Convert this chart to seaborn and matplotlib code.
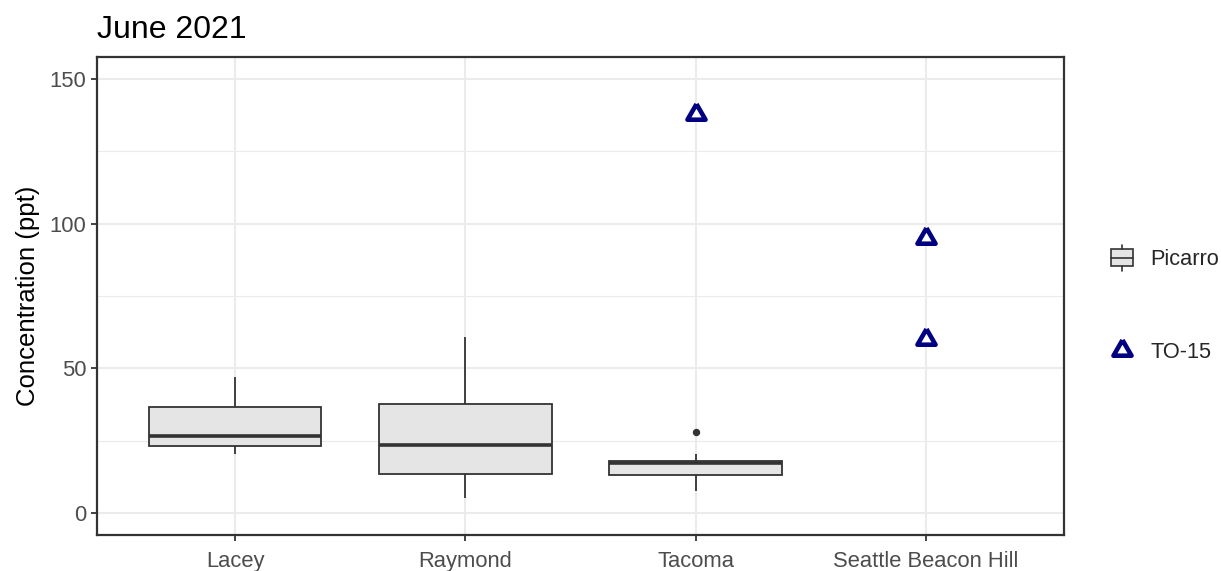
import numpy as np
import pandas as pd
import matplotlib
matplotlib.use("Agg")
import matplotlib.pyplot as plt
import seaborn as sns
from matplotlib.markers import MarkerStyle
from matplotlib.lines import Line2D
from matplotlib.patches import Rectangle
from matplotlib.legend_handler import HandlerBase
from matplotlib.ticker import FixedLocator

# ---- data ----
categories = ["Lacey", "Raymond", "Tacoma", "Seattle Beacon Hill"]
lacey_values = [20.4, 23.3, 26.8, 36.7, 47.1]
raymond_values = [5.3, 13.7, 23.6, 37.8, 60.7]
tacoma_values = [7.6, 13.1, 13.1, 17.3, 17.3, 17.9, 17.9, 20.4, 28.0]
to15_sites = ["Tacoma", "Seattle Beacon Hill", "Seattle Beacon Hill"]
to15_values = [137.7, 95.0, 60.1]
y_ticks = [0, 50, 100, 150]
y_minor = [25, 75, 125]
legend_labels = ["Picarro", "TO-15"]
title_text = "June 2021"
y_label = "Concentration (ppt)"

picarro = pd.DataFrame({
    "site": ["Lacey"] * len(lacey_values) + ["Raymond"] * len(raymond_values)
            + ["Tacoma"] * len(tacoma_values),
    "value": lacey_values + raymond_values + tacoma_values,
})
to15 = pd.DataFrame({"site": to15_sites, "value": to15_values})

# ---- style ----
sns.set_style("white")
plt.rcParams["font.family"] = ["Liberation Sans", "DejaVu Sans"]

NAVY = "#000080"
BOX_FILL = "#E5E5E5"
LINE = "#333333"
tri = MarkerStyle([(0, 1), (-0.866, -0.5), (0.866, -0.5), (0, 1)])

fig = plt.figure(figsize=(12.21, 5.71), dpi=100)
ax = fig.add_axes([97 / 1221, 1 - 535 / 571, (1064 - 97) / 1221, (535 - 57) / 571])

sns.boxplot(data=picarro, x="site", y="value", order=categories, ax=ax,
            color=BOX_FILL, linecolor=LINE, linewidth=1.3, saturation=1,
            width=0.75, showcaps=False,
            medianprops={"linewidth": 2.6, "color": LINE},
            flierprops={"marker": "o", "markersize": 4.3,
                        "markerfacecolor": LINE, "markeredgecolor": LINE})

sns.stripplot(data=to15, x="site", y="value", order=categories, ax=ax,
              jitter=False, marker=tri, size=15, color="white",
              edgecolor=NAVY, linewidth=3.3, zorder=4)

ax.set_xlim(-0.6, 3.6)
ax.set_ylim(-7.5, 157.5)
ax.set_yticks(y_ticks)
ax.yaxis.set_minor_locator(FixedLocator(y_minor))
ax.set_axisbelow(True)
ax.grid(which="major", color="#EBEBEB", linewidth=1.5)
ax.grid(which="minor", axis="y", color="#EBEBEB", linewidth=0.8)
for s in ax.spines.values():
    s.set_visible(True)
    s.set_color(LINE)
    s.set_linewidth(1.6)
ax.tick_params(which="major", direction="out", length=4.5, width=1.3,
               color=LINE, labelcolor="#4D4D4D", labelsize=15.8, pad=3,
               bottom=True, left=True)
ax.tick_params(axis="x", which="major", pad=7)
ax.tick_params(which="minor", length=0)
ax.set_xlabel("")
ax.set_ylabel(y_label, fontsize=18.5, color="black", labelpad=7)
ax.set_title(title_text, loc="left", fontsize=23, pad=14, color="black")


class BoxHandler(HandlerBase):
    def create_artists(self, legend, orig_handle, xdescent, ydescent,
                       width, height, fontsize, trans):
        cy = height / 2 - ydescent
        cx = width / 2 - xdescent
        rh = 0.55 * height
        rect = Rectangle((-xdescent, cy - rh), width, 2 * rh,
                         facecolor=BOX_FILL, edgecolor=LINE, linewidth=1.2,
                         transform=trans)
        med = Line2D([-xdescent, -xdescent + width], [cy, cy],
                     color=LINE, linewidth=1.2, transform=trans)
        w1 = Line2D([cx, cx], [cy + rh, cy + 0.85 * height],
                    color=LINE, linewidth=1.2, transform=trans)
        w2 = Line2D([cx, cx], [cy - rh, cy - 0.85 * height],
                    color=LINE, linewidth=1.2, transform=trans)
        return [rect, med, w1, w2]


box_handle = Rectangle((0, 0), 1, 1)
tri_handle = Line2D([], [], marker=tri, linestyle="none", markersize=15,
                    markerfacecolor="white", markeredgecolor=NAVY,
                    markeredgewidth=3.3)
fig.legend([box_handle, tri_handle], legend_labels,
           handler_map={Rectangle: BoxHandler()},
           loc="center left", bbox_to_anchor=(1100 / 1221, 1 - 306 / 571),
           frameon=False, fontsize=15.7, handlelength=1.0,
           handletextpad=0.8, labelspacing=3.28, borderpad=0)

fig.savefig("out.png", dpi=100)
